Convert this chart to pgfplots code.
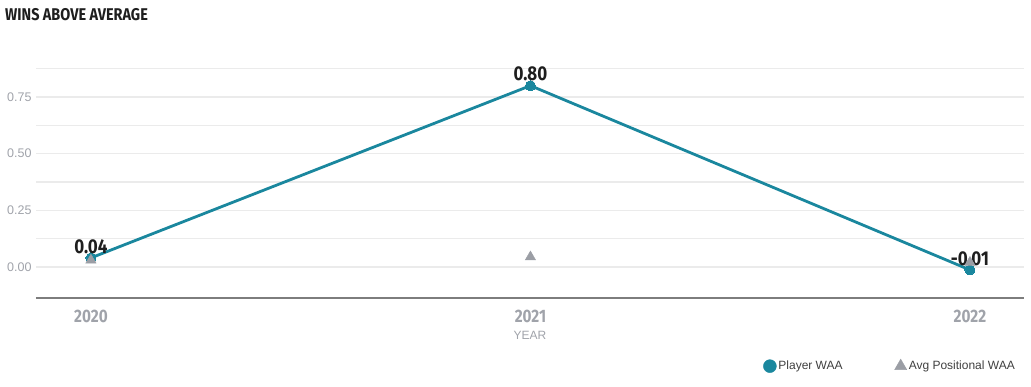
\documentclass[border=0pt]{standalone}
\usepackage{pgfplots}
\pgfplotsset{compat=1.18}
\usepackage{fontspec}
\setmainfont{Liberation Sans}
\newfontfamily\cond[FakeStretch=0.85]{Fira Sans}
\definecolor{teal1}{HTML}{1A879E}
\definecolor{tri}{HTML}{9B9EA5}
\definecolor{gridc}{HTML}{EBEBEB}
\definecolor{axc}{HTML}{7D7D7D}
\definecolor{tickc}{HTML}{A0A3AA}
\definecolor{labc}{HTML}{1E1E1E}
\begin{document}
\begin{tikzpicture}
\path[use as bounding box] (0pt,0pt) rectangle (1031pt,387pt);
\node[anchor=west,inner sep=0pt,text=labc] at (5pt,372pt) {\cond\bfseries\fontsize{17}{19}\selectfont WINS ABOVE AVERAGE};
\begin{axis}[
  at={(36pt,89pt)}, anchor=south west,
  scale only axis, width=988pt, height=235pt,
  xmin=-0.125, xmax=2.123,
  ymin=-0.137, ymax=0.9,
  axis x line*=bottom, axis y line*=left,
  x axis line style={draw=axc, line width=2pt, -},
  y axis line style={draw=none},
  xtick={0,1,2},
  xticklabels={2020,2021,2022},
  xtick style={draw=none},
  xticklabel style={text=tickc, font=\cond\bfseries\fontsize{18}{20}\selectfont, yshift=-9pt},
  xlabel={YEAR}, xlabel style={text=tickc, font=\fontsize{12}{13}\selectfont, yshift=-1pt},
  ytick={0,0.25,0.5,0.75},
  yticklabels={0.00,0.25,0.50,0.75},
  minor ytick={0.125,0.375,0.625,0.875},
  ymajorgrids, yminorgrids,
  major grid style={draw=gridc, line width=1.5pt},
  minor grid style={draw=gridc, line width=1.5pt},
  ytick style={draw=none}, minor tick style={draw=none},
  yticklabel style={text=tickc, font=\fontsize{12.5}{13}\selectfont, xshift=-1pt},
  clip=false,
  legend columns=2,
  legend style={draw=none, fill=none, at={(0.733,-0.29)}, anchor=west,
    font=\fontsize{12}{13}\selectfont, text=black!75,
    /tikz/every even column/.append style={column sep=50pt}},
  legend cell align=left,
]
\addplot[teal1, line width=2.8pt, mark=*, mark size=5pt,
  mark options={fill=teal1, draw=teal1, line width=0pt},
  point meta=explicit symbolic,
  nodes near coords={\pgfplotspointmeta},
  nodes near coords style={text=labc, font=\cond\bfseries\fontsize{20}{22}\selectfont, anchor=south, yshift=1pt},
  forget plot]
  table[meta=lab] {
x y lab
0 0.04 0.04
1 0.80 0.80
2 -0.013 -0.01
};
\addplot[only marks, mark=triangle*, mark size=6pt, tri, mark options={fill=tri, draw=tri}, forget plot]
  coordinates {(0,0.03) (1,0.044) (2,0.02)};
\addlegendimage{only marks, mark=*, mark size=6.5pt, teal1, mark options={fill=teal1, draw=teal1}}
\addlegendentry{Player WAA}
\addlegendimage{only marks, mark=triangle*, mark size=7pt, tri, mark options={fill=tri, draw=tri}}
\addlegendentry{Avg Positional WAA}
\end{axis}
\end{tikzpicture}
\end{document}
